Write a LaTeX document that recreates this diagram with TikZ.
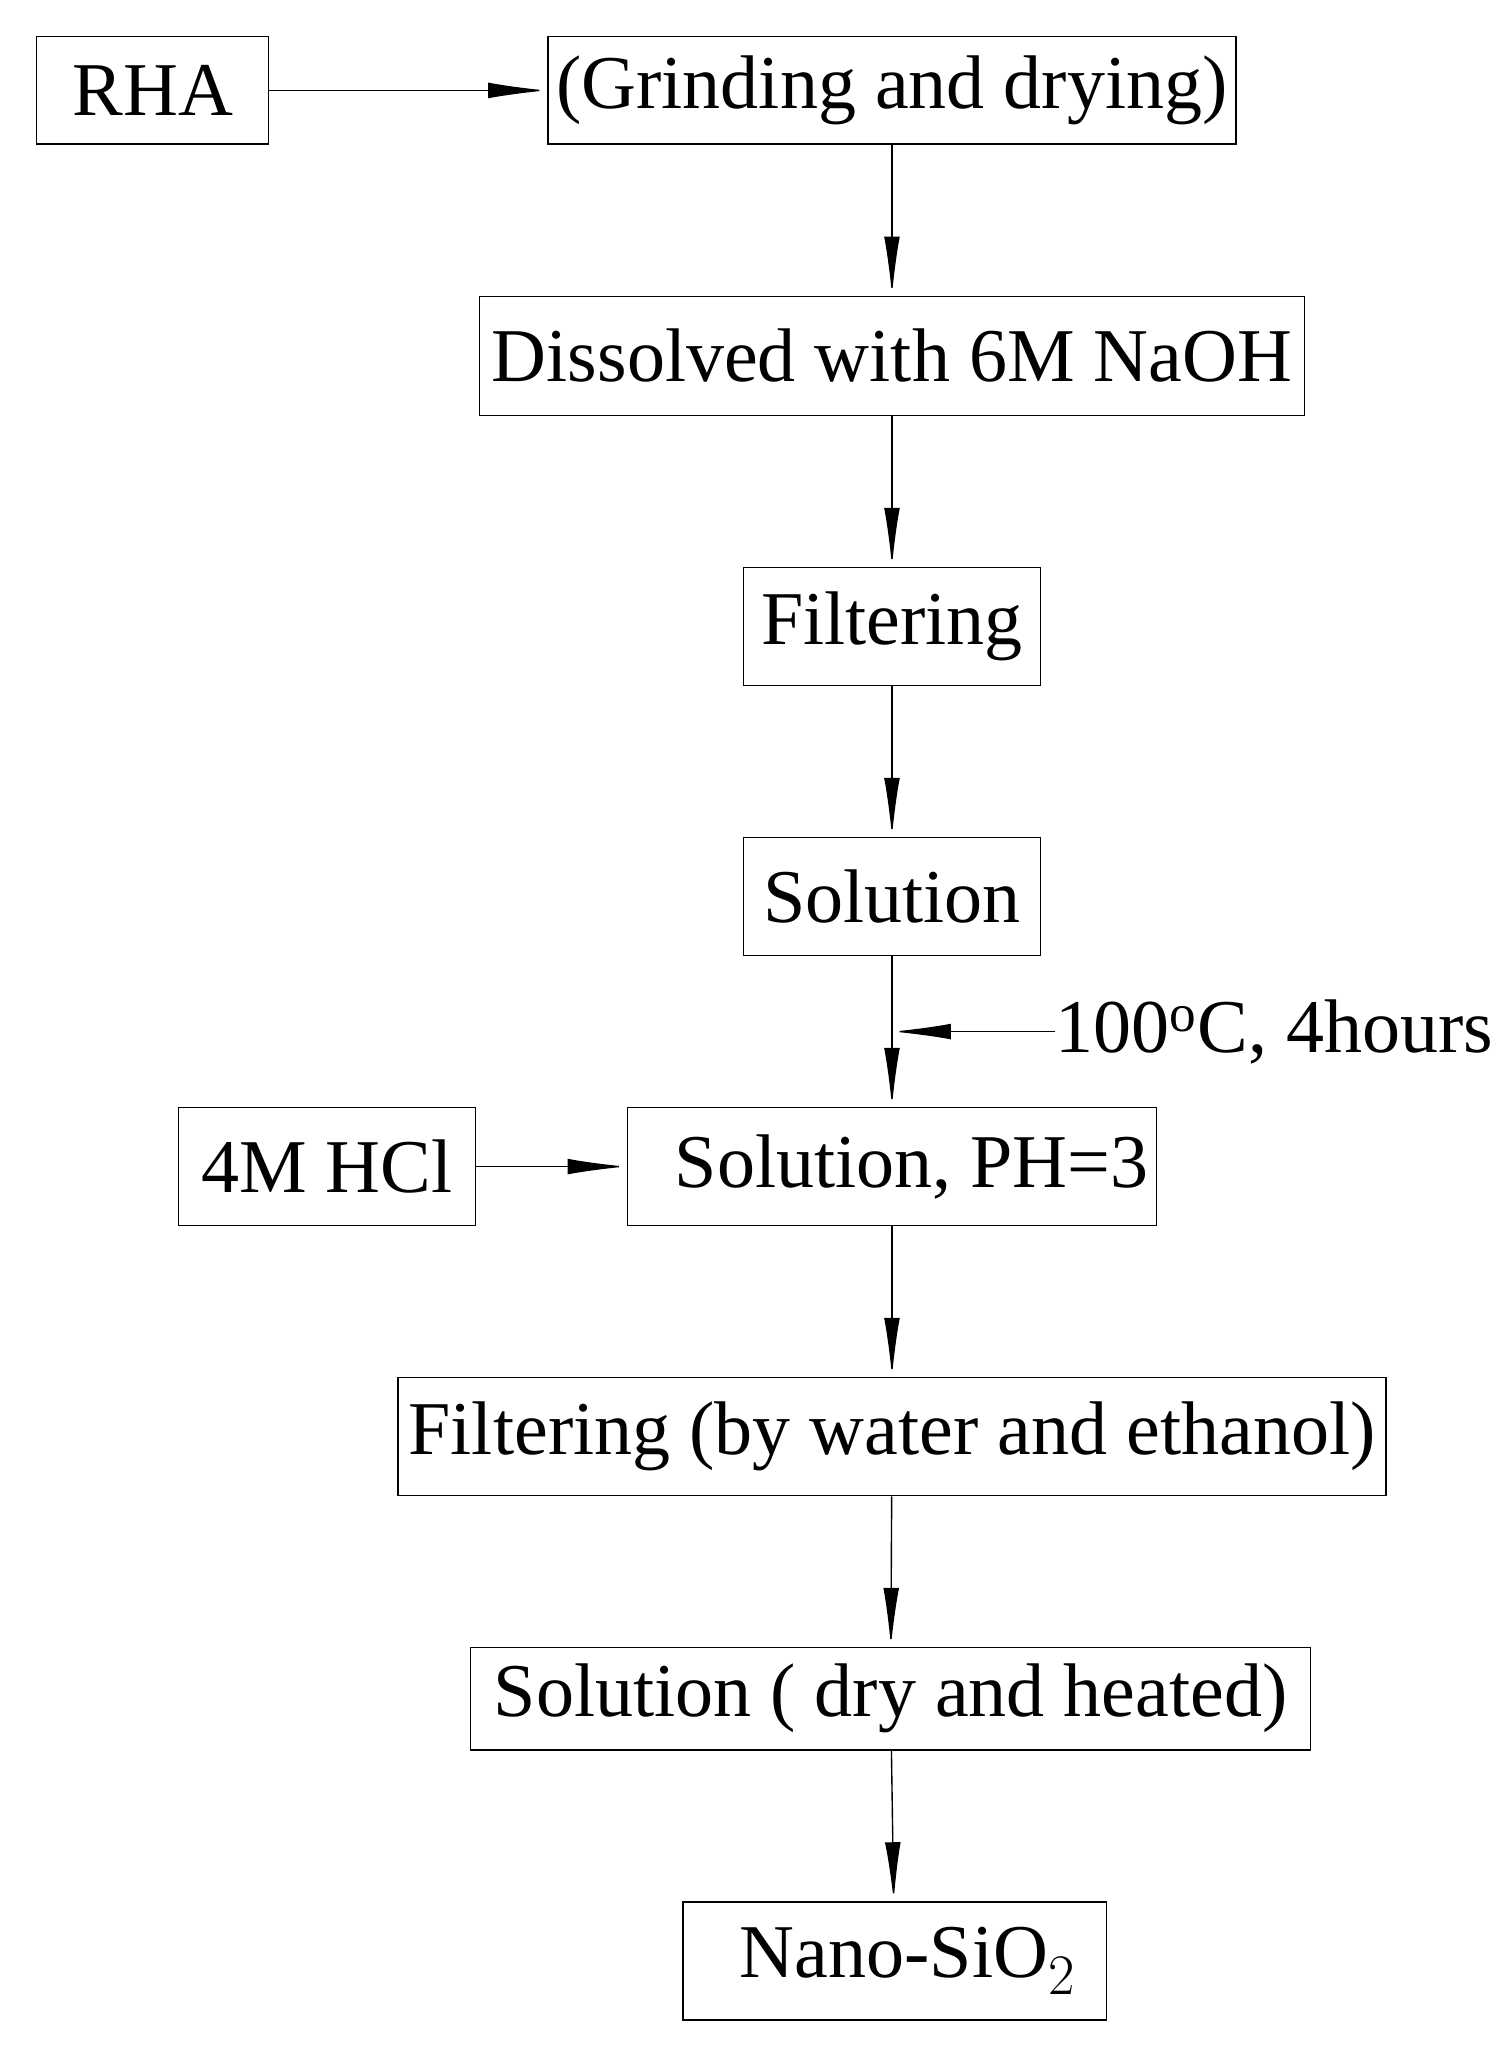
\documentclass[tikz,border=0pt]{standalone}
\usepackage{fontspec}
\setmainfont{Liberation Serif}
\usetikzlibrary{arrows.meta}
\begin{document}
\begin{tikzpicture}[
  box/.style={draw,line width=0.6pt,inner sep=0pt,align=center,font=\fontsize{33}{38}\selectfont},
  flow/.style={-{Latex[length=9mm,width=2.4mm]},line width=0.6pt}]
\useasboundingbox (0,0) rectangle (22.8,-31.28);
\node[box,minimum width=3.54cm,minimum height=1.64cm] (rha) at (2.33,-1.38) {RHA};
\node[box,minimum width=10.5cm,minimum height=1.64cm] (grind) at (13.61,-1.38) {(Grinding and drying)};
\node[box,minimum width=12.58cm,minimum height=1.82cm] (naoh) at (13.61,-5.43) {Dissolved with 6M NaOH};
\node[box,minimum width=4.54cm,minimum height=1.8cm] (filt) at (13.61,-9.56) {Filtering};
\node[box,minimum width=4.54cm,minimum height=1.8cm] (sol) at (13.61,-13.68) {Solution};
\node[box,minimum width=8.08cm,minimum height=1.8cm] (ph) at (13.61,-17.8) {\hspace*{0.6cm}Solution, PH=3};
\node[box,minimum width=4.54cm,minimum height=1.8cm] (hcl) at (4.99,-17.8) {4M HCl};
\node[box,minimum width=15.08cm,minimum height=1.8cm] (wash) at (13.61,-21.92) {Filtering (by water and ethanol)};
\node[box,minimum width=12.82cm,minimum height=1.56cm] (dry) at (13.59,-25.92) {Solution ( dry and heated)};
\node[box,minimum width=6.46cm,minimum height=1.8cm] (nano) at (13.65,-29.92) {\hspace*{0.4cm}Nano-SiO$_{\fontsize{40}{40}\selectfont 2}$};
% heating condition
\coordinate (heat) at (16.1,-15.74);
\coordinate (join) at (13.61,-15.74);
\node[anchor=west,inner sep=0pt,font=\fontsize{33}{38}\selectfont] (heatlbl) at (heat) {100$^{\mathrm{o}}$C, 4hours};
\draw[flow] (rha) -- (grind);
\draw[flow] (grind) -- (naoh);
\draw[flow] (naoh) -- (filt);
\draw[flow] (filt) -- (sol);
\draw[flow] (sol) -- (ph);
\draw[flow] (heat) -- (join);
\draw[flow] (hcl) -- (ph);
\draw[flow] (ph) -- (wash);
\draw[flow] (wash) -- (dry);
\draw[flow] (dry) -- (nano);
\end{tikzpicture}
\end{document}
